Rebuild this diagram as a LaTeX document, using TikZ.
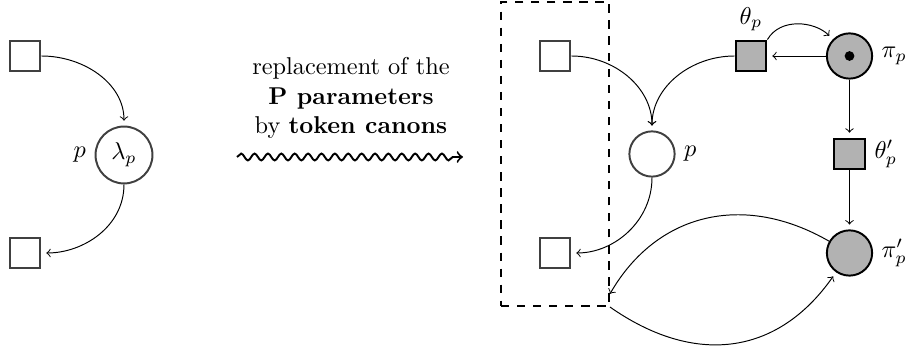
\documentclass[tikz,border=0pt]{standalone}
\usepackage{tikz}
\usetikzlibrary{arrows}
\usetikzlibrary{decorations.pathmorphing}
\tikzstyle{place} = [
    circle,
    draw=black!75,
    thick,
    inner sep=0pt,
    minimum size=18.6pt % same size for every place
]
\tikzstyle{canon_place} = [
    place,
    draw=black,
    fill=black!30
]
\tikzstyle{transition} = [
    rectangle,
    draw=black!75,
    thick,
    inner sep=0pt,
    minimum size=12.7pt
]
\tikzstyle{canon_transition} = [
    transition,
    draw=black,
    fill=black!30
]
\tikzstyle{token} = [
    circle,
    fill=black,
    inner sep=0pt,
    minimum size=4pt
]
\tikzstyle{arc} = [
    ->,
    shorten >=2pt
]
\tikzstyle{frame} = [
    rectangle,
    draw=black,
    thick,
    dash pattern=on 3.4pt off 3.2pt,
    inner sep=0pt,
    minimum width=44.4pt,
    minimum height=125pt
]

\begin{document}
\begin{tikzpicture}[x=0.411pt, y=0.411pt, >=to]
\useasboundingbox (0,0) rectangle (908,349);

% net with the parameter
\node [transition] (in_left) at (25,293) {};
\node [transition] (out_left) at (25,96) {};
\node [place, minimum size=23.4pt, label=left:$p$] (lambda) at (124,194) {$\lambda_p$};
\draw [arc] (in_left) to[out=0, in=90] (lambda);
\draw [arc] (lambda) to[out=-90, in=0] (out_left);

% rewriting step
\node [align=center] (caption) at (351,251) {replacement of the\\ \textbf{P parameters}\\ by \textbf{token canons}};
\coordinate (wave_start) at (237,192);
\coordinate (wave_end) at (463,192);
\draw [->, thick, decorate, decoration={snake, amplitude=1.4pt, segment length=5.5pt, post length=2pt}]
    (wave_start) -- (wave_end);

% net with the token canon
\node [frame] (box) at (555,195) {};
\node [transition] (in_right) at (555,293) {};
\node [transition] (out_right) at (555,96) {};
\node [place, label=right:$p$] (p) at (652,195) {};
\node [canon_transition, label=above:$\theta_p$] (theta) at (751,293) {};
\node [canon_place, label=right:$\pi_p$] (pi) at (849.5,293) {};
\node [token] (pi_token) at (pi.center) {};
\node [canon_transition, label=right:$\theta'_p$] (theta_prime) at (849.5,195) {};
\node [canon_place, label=right:$\pi'_p$] (pi_prime) at (849.5,96) {};

\draw [arc] (in_right) to[out=0, in=90] (p);
\draw [arc] (theta) to[out=180, in=90] (p);
\draw [arc] (p) to[out=-90, in=0] (out_right);
\draw [arc] (pi) -- (theta);
\draw [arc] (theta.north east) to[out=60, in=135] (pi);
\draw [arc] (pi) -- (theta_prime);
\draw [arc] (theta_prime) -- (pi_prime);
\draw [arc] (pi_prime) to[out=150, in=60, looseness=1.1] ([xshift=-1pt, yshift=3.7pt]box.south east);
\draw [arc] (box.south east) to[out=-35, in=235, looseness=1.15] (pi_prime);
\end{tikzpicture}
\end{document}
